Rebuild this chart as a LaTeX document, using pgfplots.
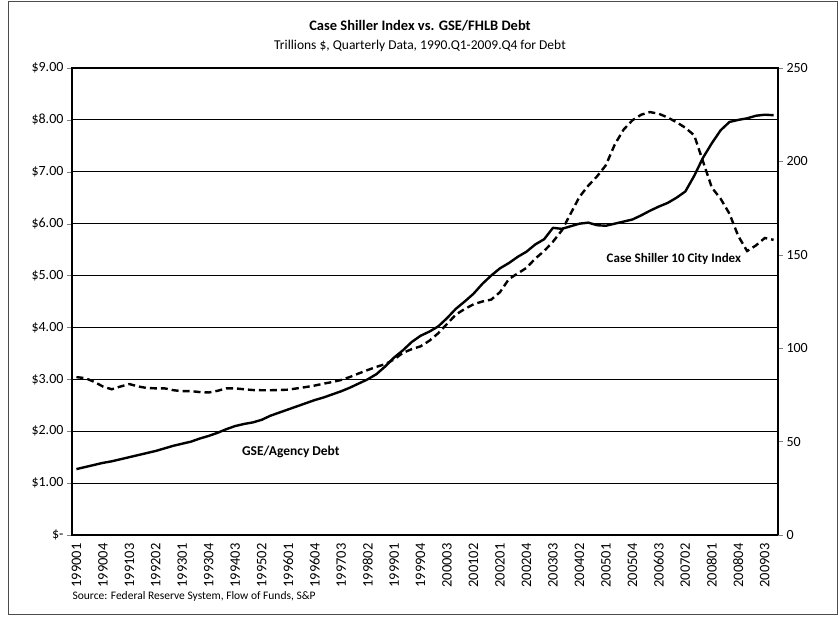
\documentclass[border=0pt]{standalone}
\usepackage{pgfplots}
\usepackage{pgfplotstable}
\pgfplotsset{compat=1.18}
\usepackage{fontspec}
\setmainfont{Carlito}

\pgfplotstableread{
i debt cs
0 1.27 84.5
1 1.31 84
2 1.35 82
3 1.39 79.5
4 1.42 78
5 1.46 79.5
6 1.50 80.8
7 1.54 79.5
8 1.58 78.7
9 1.62 78.5
10 1.67 78.5
11 1.72 77.5
12 1.76 77
13 1.80 77
14 1.86 76.5
15 1.91 76.3
16 1.97 77.2
17 2.04 78.5
18 2.10 78.5
19 2.14 78
20 2.17 77.6
21 2.22 77.5
22 2.30 77.5
23 2.36 77.6
24 2.42 77.8
25 2.48 78.5
26 2.54 79.2
27 2.60 80
28 2.65 81
29 2.71 81.9
30 2.77 83
31 2.84 84.6
32 2.92 86.5
33 3.00 88.3
34 3.10 90
35 3.25 91.5
36 3.42 94
37 3.56 97.5
38 3.72 99.5
39 3.84 101
40 3.92 104
41 4.02 108
42 4.18 113
43 4.36 118
44 4.50 121
45 4.65 123.5
46 4.84 125
47 5.00 126
48 5.14 130
49 5.24 137
50 5.36 140
51 5.46 143
52 5.60 148
53 5.70 152
54 5.92 157
55 5.90 163
56 5.95 172
57 6.00 181
58 6.02 187
59 5.97 192
60 5.96 198
61 6.00 209
62 6.04 217
63 6.08 222
64 6.16 225
65 6.25 226.4
66 6.33 225.5
67 6.40 223.5
68 6.50 221
69 6.62 218
70 6.92 214
71 7.27 200
72 7.55 186
73 7.80 180
74 7.96 172
75 8.00 160
76 8.03 152
77 8.08 155
78 8.10 159
79 8.09 158
}\datatable

\begin{document}
\begin{tikzpicture}[x=1pt,y=1pt]
\path[use as bounding box] (0,0) rectangle (838,623);
\draw[gray!60!black, line width=1pt] (8,8) rectangle (837,621);

\node[font=\fontsize{14.5}{17}\selectfont\bfseries] at (420,597) {Case Shiller Index vs. GSE/FHLB Debt};
\node[font=\fontsize{13.5}{16}\selectfont] at (420,577) {Trillions \$, Quarterly Data, 1990.Q1-2009.Q4 for Debt};
\node[font=\fontsize{11.5}{13}\selectfont, anchor=west] at (69,27) {Source: Federal Reserve System, Flow of Funds, S\&P};

\begin{axis}[
  at={(72pt,88pt)}, anchor=south west,
  scale only axis, width=706pt, height=467pt,
  xmin=-0.5, xmax=79.5, ymin=0, ymax=9,
  xtick={0,3,...,78},
  xticklabels={199001,199004,199103,199202,199301,199304,199403,199502,199601,199604,199703,199802,199901,199904,200003,200102,200201,200204,200303,200402,200501,200504,200603,200702,200801,200804,200903},
  x tick label style={rotate=90, anchor=east, font=\fontsize{14.5}{16}\selectfont},
  ytick={0,1,...,9},
  yticklabels={\$-,\$1.00,\$2.00,\$3.00,\$4.00,\$5.00,\$6.00,\$7.00,\$8.00,\$9.00},
  y tick label style={font=\fontsize{14}{16}\selectfont},
  ytick pos=left, xtick pos=bottom,
  tick align=outside,
  major tick length=5pt,
  x tick style={draw=none},
  ymajorgrids,
  major grid style={black, line width=1pt},
  axis line style={black, line width=1.2pt},
  clip=false,
]
\addplot[black, line width=2.4pt, line join=round] table[x=i, y=debt] {\datatable};
\node[font=\fontsize{13.5}{15}\selectfont\bfseries] at (axis cs:24.3,1.6) {GSE/Agency Debt};
\end{axis}

\begin{axis}[
  at={(72pt,88pt)}, anchor=south west,
  scale only axis, width=706pt, height=467pt,
  xmin=-0.5, xmax=79.5, ymin=0, ymax=250,
  axis x line=none,
  axis y line*=right,
  ytick={0,50,...,250},
  yticklabels={0,50,100,150,200,250},
  y tick label style={font=\fontsize{14}{16}\selectfont},
  tick align=outside,
  major tick length=5pt,
  axis line style={black, line width=1.2pt},
  clip=false,
]
\addplot[black, line width=2.4pt, dash pattern=on 7pt off 4pt] table[x=i, y=cs] {\datatable};
\node[font=\fontsize{13}{15}\selectfont\bfseries] at (axis cs:67.7,148) {Case Shiller 10 City Index};
\end{axis}
\end{tikzpicture}
\end{document}
